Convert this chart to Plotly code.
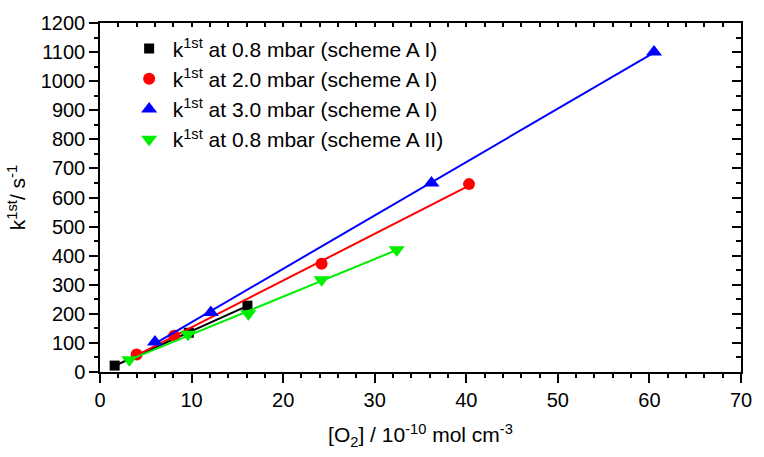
import numpy as np
import plotly.graph_objects as go

# O2 concentration (1e-10 mol cm^-3) and first-order rate constants (s^-1)
x_a1_08 = [1.6, 9.7, 16.1]
k_a1_08 = [22, 135, 228]

x_a1_20 = [4.0, 8.1, 24.2, 40.3]
k_a1_20 = [60, 125, 372, 646]

x_a1_30 = [6.0, 12.1, 36.2, 60.5]
k_a1_30 = [103, 205, 650, 1100]

x_a2_08 = [3.2, 9.6, 16.2, 24.2, 32.4]
k_a2_08 = [42, 130, 200, 317, 420]

series = [
    ("k<sup>1st</sup> at 0.8 mbar (scheme A I)", x_a1_08, k_a1_08, "#000000", "square", 10),
    ("k<sup>1st</sup> at 2.0 mbar (scheme A I)", x_a1_20, k_a1_20, "#ff0000", "circle", 12),
    ("k<sup>1st</sup> at 3.0 mbar (scheme A I)", x_a1_30, k_a1_30, "#0000ff", "triangle-up", 14),
    ("k<sup>1st</sup> at 0.8 mbar (scheme A II)", x_a2_08, k_a2_08, "#00ee00", "triangle-down", 14),
]

fig = go.Figure()
for i, (name, xs, ks, color, symbol, size) in enumerate(series):
    xs_arr = np.array(xs, dtype=float)
    ks_arr = np.array(ks, dtype=float)
    slope, icpt = np.polyfit(xs_arr, ks_arr, 1)
    xf = np.array([xs_arr.min(), xs_arr.max()])
    fig.add_trace(go.Scatter(
        x=xf, y=slope * xf + icpt, mode="lines",
        line=dict(color=color, width=2), showlegend=False, hoverinfo="skip"))
    fig.add_trace(go.Scatter(
        x=xs, y=ks, mode="markers", name=name, legendgroup=f"g{i}",
        marker=dict(color=color, symbol=symbol, size=size, line=dict(width=0))))

# empty trace so the mirrored top/right axes get drawn
fig.add_trace(go.Scatter(x=[], y=[], xaxis="x2", yaxis="y2", showlegend=False))

font_family = "Liberation Sans, Arial, sans-serif"
axis_common = dict(showline=True, linecolor="black", linewidth=1.5,
                   showgrid=False, zeroline=False, tickcolor="black",
                   tickwidth=1.5)

fig.update_layout(
    width=764, height=457,
    margin=dict(l=100, r=22, t=13, b=85),
    plot_bgcolor="white", paper_bgcolor="white",
    font=dict(family=font_family, size=20, color="black"),
    showlegend=True,
    legend=dict(x=0.040, y=0.985, xanchor="left", yanchor="top",
                bgcolor="rgba(0,0,0,0)", tracegroupgap=0,
                font=dict(size=21), itemwidth=37),
    xaxis=dict(range=[0, 70], dtick=10, ticks="outside", ticklen=9,
               tickfont=dict(size=20),
               minor=dict(dtick=2, ticks="outside", ticklen=4, tickcolor="black", tickwidth=1.5),
               title=dict(text="[O<sub>2</sub>] / 10<sup>-10</sup> mol cm<sup>-3</sup>",
                          standoff=18, font=dict(size=21)),
               **axis_common),
    yaxis=dict(range=[0, 1200], dtick=100, ticks="outside", ticklen=9,
               tickfont=dict(size=20),
               minor=dict(dtick=50, ticks="outside", ticklen=4, tickcolor="black", tickwidth=1.5),
               title=dict(text="k<sup>1st</sup>/ s<sup>-1</sup>", standoff=9, font=dict(size=21)),
               **axis_common),
    xaxis2=dict(range=[0, 70], dtick=10, overlaying="x", side="top", ticks="inside",
                ticklen=4, showticklabels=False,
                minor=dict(dtick=2, ticks="inside", ticklen=4, tickcolor="black", tickwidth=1.5),
                **axis_common),
    yaxis2=dict(range=[0, 1200], dtick=100, overlaying="y", side="right", ticks="inside",
                ticklen=9, showticklabels=False,
                minor=dict(dtick=50, ticks="inside", ticklen=5, tickcolor="black", tickwidth=1.5),
                **axis_common),
)

fig.write_html("out.html")
